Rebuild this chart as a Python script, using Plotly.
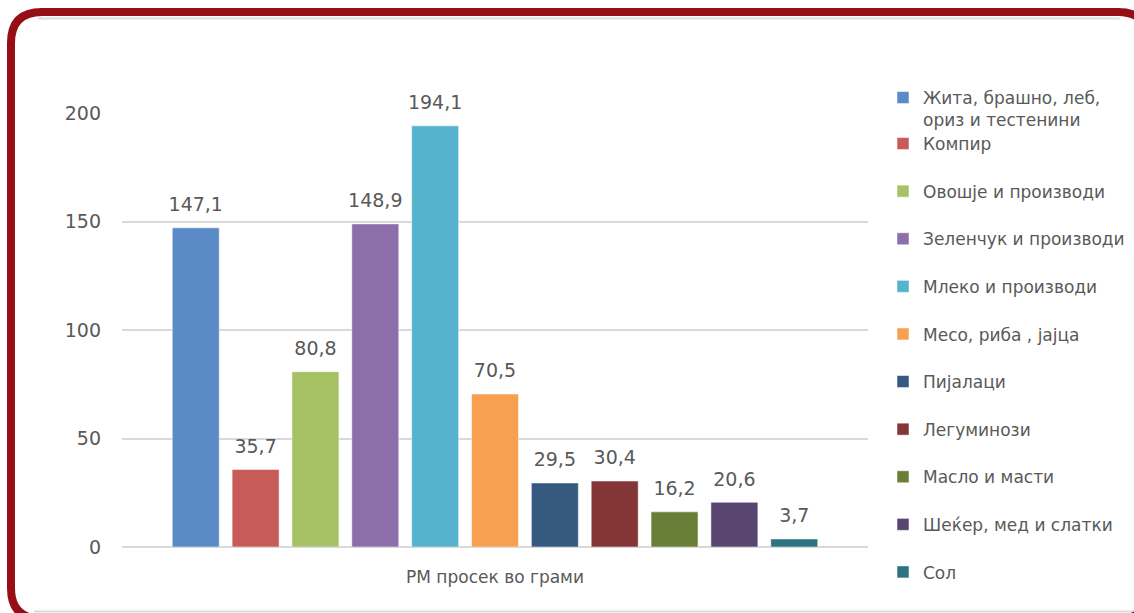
import plotly.graph_objects as go

# Average daily consumption per food group (grams)
category = "РМ просек во грами"
groups = [
    "Жита, брашно, леб,<br>ориз и тестенини",
    "Компир",
    "Овошје и производи",
    "Зеленчук и производи",
    "Млеко и производи",
    "Месо, риба , јајца",
    "Пијалаци",
    "Легуминози",
    "Масло и масти",
    "Шеќер, мед и слатки",
    "Сол",
]
grams = [147.1, 35.7, 80.8, 148.9, 194.1, 70.5, 29.5, 30.4, 16.2, 20.6, 3.7]
colors = [
    "#5B8BC6", "#C65B58", "#A6C264", "#8C6EAB", "#55B3CD", "#F89F52",
    "#35597F", "#833635", "#697F38", "#594670", "#2E7381",
]
y_ticks = [0, 50, 100, 150, 200]

W, H = 1134, 613
ML, MR, MT, MB = 122, 266, 113, 66
PW, PH = W - ML - MR, H - MT - MB
FONT = "DejaVu Sans"
GREY = "#595959"


def px(x):
    return (x - ML) / PW


def py(y):
    return (H - MB - y) / PH


fig = go.Figure()
for i, (name, val, col) in enumerate(zip(groups, grams, colors)):
    label = f"{val:.1f}".replace(".", ",")
    fig.add_trace(go.Bar(
        x=[category], y=[val], name=name,
        marker=dict(color=col, line=dict(width=1, color="rgba(255,255,255,0.5)")),
        text=[f"<span style='font-size:19px'>{label}</span><br> "],
        textposition="outside", cliponaxis=False, constraintext="none",
        textfont=dict(family=FONT, size=9, color=GREY),
        legendgroup=f"g{i}",
        legend="legend" if i == 0 else "legend2",
    ))

# Rounded dark-red frame around the chart
x0, y0, x1, y1, r = 11, 12, 1149, 619, 31
frame = (
    f"M {px(x0)},{py(y0 + r)} "
    f"Q {px(x0)},{py(y0)} {px(x0 + r)},{py(y0)} "
    f"L {px(x1 - r)},{py(y0)} "
    f"Q {px(x1)},{py(y0)} {px(x1)},{py(y0 + r)} "
    f"L {px(x1)},{py(y1 - r)} "
    f"Q {px(x1)},{py(y1)} {px(x1 - r)},{py(y1)} "
    f"L {px(x0 + r)},{py(y1)} "
    f"Q {px(x0)},{py(y1)} {px(x0)},{py(y1 - r)} Z"
)
shapes = [
    dict(type="line", xref="paper", yref="paper", x0=px(38), x1=px(1120),
         y0=py(18.5), y1=py(18.5), line=dict(color="#DCDCDC", width=2), layer="below"),
    dict(type="line", xref="paper", yref="paper", x0=px(34), x1=px(1134),
         y0=py(611.5), y1=py(611.5), line=dict(color="#DCDCDC", width=2), layer="below"),
    dict(type="path", xref="paper", yref="paper", path=frame,
         line=dict(color="#960F16", width=8)),
]

legend_font = dict(family=FONT, size=17, color=GREY)
fig.update_layout(
    width=W, height=H,
    margin=dict(l=ML, r=MR, t=MT, b=MB, pad=0, autoexpand=False),
    paper_bgcolor="white", plot_bgcolor="white",
    barmode="group", bargap=0.1175, bargroupgap=0.215,
    font=dict(family=FONT, color=GREY),
    showlegend=True,
    legend=dict(x=px(883), y=py(80), xanchor="left", yanchor="top",
                font=legend_font, valign="top", itemwidth=30,
                bgcolor="rgba(0,0,0,0)", maxheight=200),
    legend2=dict(x=px(883), y=py(126), xanchor="left", yanchor="top",
                 font=legend_font, valign="middle", itemwidth=30,
                 tracegroupgap=22.5, bgcolor="rgba(0,0,0,0)", maxheight=900),
    xaxis=dict(range=[-0.5, 0.5], showgrid=False, showline=False, zeroline=False,
               ticks="", tickfont=dict(family=FONT, size=17, color=GREY),
               ticklabelstandoff=18, fixedrange=True),
    yaxis=dict(range=[0, 200], tickvals=y_ticks, showgrid=True,
               gridcolor="#D9D9D9", gridwidth=2, zeroline=True,
               zerolinecolor="#D9D9D9", zerolinewidth=2, showline=False,
               ticks="", tickfont=dict(family=FONT, size=19, color=GREY),
               ticklabelstandoff=20, fixedrange=True),
    shapes=shapes,
)

fig.write_html("out.html")
